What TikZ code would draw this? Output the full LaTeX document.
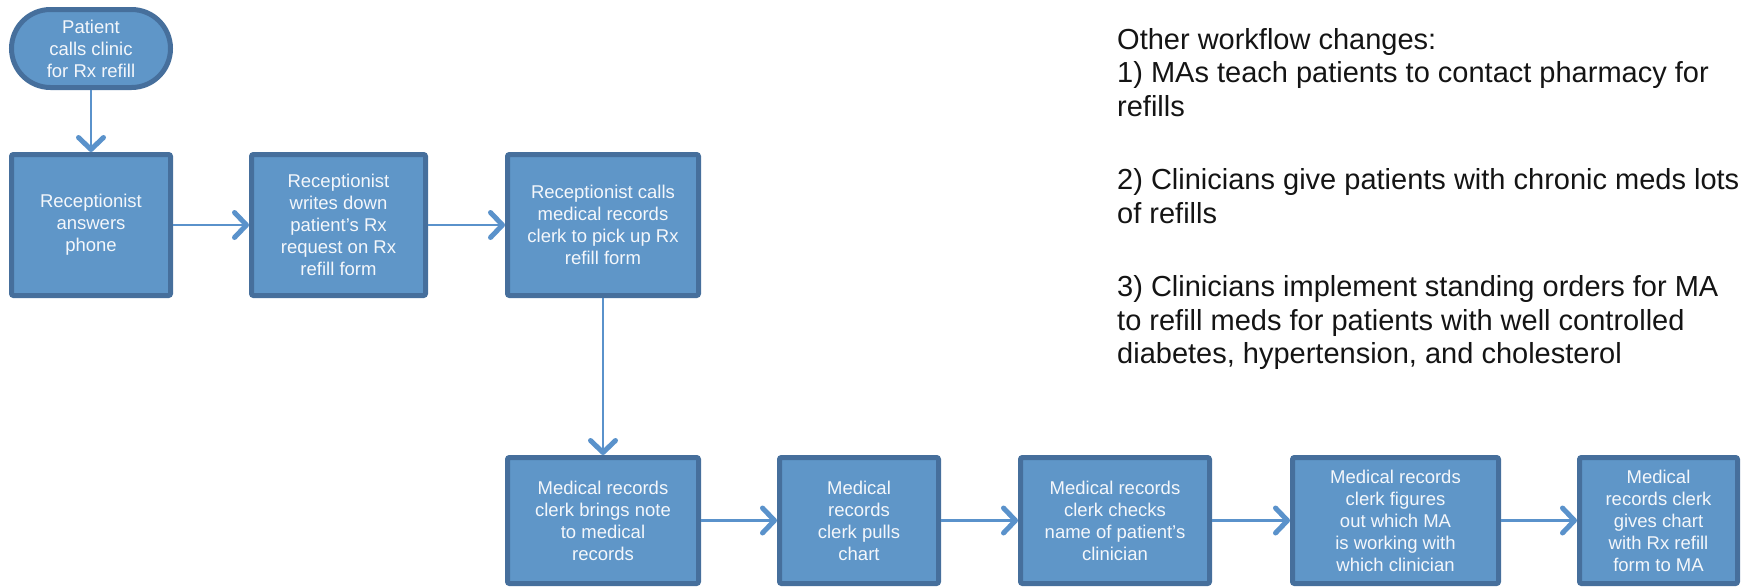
\documentclass[tikz,border=0pt]{standalone}
\usepackage{fontspec}
\setmainfont{Liberation Sans}
\usetikzlibrary{arrows.meta}
\begin{document}
\begin{tikzpicture}[x=1pt,y=-1pt,
  stepbox/.style={draw=boxedge,fill=boxfill,line width=5pt,rounded corners=2pt,
    align=center,text=boxtext,inner sep=0pt,minimum height=141pt,
    font=\fontsize{18.5}{22}\selectfont},
  lowbox/.style={stepbox,minimum height=126pt},
  startbox/.style={stepbox,minimum height=78pt,rounded corners=39pt},
  flow/.style={draw=arrowc,line width=2.2pt,
    -{Straight Barb[length=12pt,width=25pt,line width=5pt,round]}}]
\definecolor{boxfill}{HTML}{5F96C8}\definecolor{boxedge}{HTML}{466F9C}
\definecolor{boxtext}{HTML}{F4F7FB}\definecolor{arrowc}{HTML}{5A92CB}
\definecolor{notec}{HTML}{141414}
\useasboundingbox (0,0) rectangle (1752,587);
% top row
\node[startbox,minimum width=159pt] (call) at (91,48.5) {Patient\\calls clinic\\for Rx refill};
\node[stepbox,minimum width=159pt] (answer) at (91,225) {Receptionist\\answers\\phone};
\node[stepbox,minimum width=174pt] (write) at (338.5,225) {Receptionist\\writes down\\patient’s Rx\\request on Rx\\refill form};
\node[stepbox,minimum width=191pt] (callrec) at (603,225) {Receptionist calls\\medical records\\clerk to pick up Rx\\refill form};
% bottom row
\node[lowbox,minimum width=191pt] (bring) at (603,520.5) {Medical records\\clerk brings note\\to medical\\records};
\node[lowbox,minimum width=159pt] (pull) at (859,520.5) {Medical\\records\\clerk pulls\\chart};
\node[lowbox,minimum width=189pt] (check) at (1115,520.5) {Medical records\\clerk checks\\name of patient’s\\clinician};
\node[lowbox,minimum width=206pt] (figure) at (1395.5,520.5) {Medical records\\clerk figures\\out which MA\\is working with\\which clinician};
\node[lowbox,minimum width=158pt] (give) at (1658.5,520.5) {Medical\\records clerk\\gives chart\\with Rx refill\\form to MA};
\draw[flow] (call) -- (answer);
\draw[flow] (answer) -- (write);
\draw[flow] (write) -- (callrec);
\draw[flow] (callrec) -- (bring);
\draw[flow] (bring) -- (pull);
\draw[flow] (pull) -- (check);
\draw[flow] (check) -- (figure);
\draw[flow] (figure) -- (give);
% side notes
\node[anchor=north west,align=left,inner sep=0pt,text=notec,
  font=\fontsize{29}{33.5}\selectfont] (notes) at (1117,28)
  {Other workflow changes:\\1) MAs teach patients to contact pharmacy for\\refills\\[40pt]
   2) Clinicians give patients with chronic meds lots\\of refills\\[40pt]
   3) Clinicians implement standing orders for MA\\to refill meds for patients with well controlled\\diabetes, hypertension, and cholesterol};
\end{tikzpicture}
\end{document}
